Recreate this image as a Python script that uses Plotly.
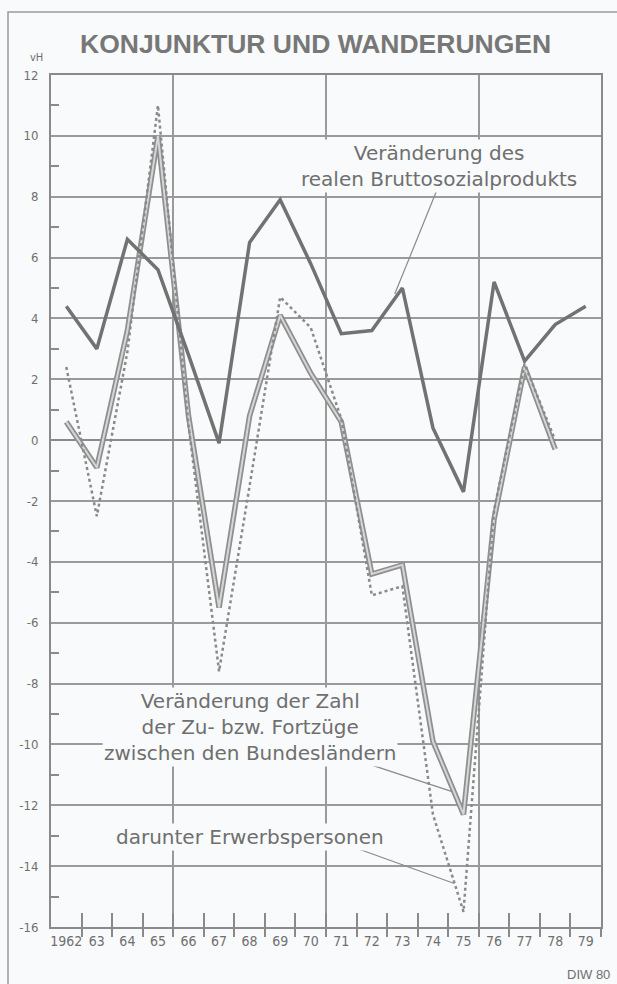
import plotly.graph_objects as go

years = list(range(1962, 1980))
year_labels = ["1962", "63", "64", "65", "66", "67", "68", "69", "70", "71",
               "72", "73", "74", "75", "76", "77", "78", "79"]

# Veränderung des realen Bruttosozialprodukts (vH)
bsp = [4.4, 3.0, 6.6, 5.6, 2.8, -0.1, 6.5, 7.9, 5.8, 3.5, 3.6, 5.0, 0.4, -1.7, 5.2, 2.6, 3.8, 4.4]

# Veränderung der Zahl der Zu- bzw. Fortzüge zwischen den Bundesländern (vH), 1962-1978
mig_years = list(range(1962, 1979))
wanderungen = [0.6, -0.9, 3.6, 10.0, 0.8, -5.5, 0.8, 4.1, 2.2, 0.6, -4.4, -4.1, -9.9, -12.3, -2.6, 2.4, -0.3]

# darunter Erwerbspersonen (vH)
erwerbspersonen = [2.4, -2.5, 2.9, 11.0, 0.5, -7.6, -1.5, 4.7, 3.7, 0.7, -5.1, -4.8, -12.3, -15.5, -2.3, 2.5, 0.0]

y_ticks = list(range(-16, 13, 2))
y_minor = list(range(-15, 12, 2))
x_bounds = [y + 0.5 for y in range(1962, 1979)]
x_grid = [1965.5, 1970.5, 1975.5]

BG = "#f8fafb"
GRID = "#9a9a9a"
AX = "#8a8a8a"
TXT = "#6f6f6f"
NARROW = "Liberation Sans Narrow, DejaVu Sans Condensed, Arial Narrow, sans-serif"
LABEL_FONT = "DejaVu Sans, Verdana, sans-serif"

fig = go.Figure()

# double (hollow) line: outer dark, inner light
fig.add_trace(go.Scatter(x=mig_years, y=wanderungen, mode="lines",
                         line=dict(color="#8f8f8f", width=5.5), hoverinfo="skip", showlegend=False))
fig.add_trace(go.Scatter(x=mig_years, y=wanderungen, mode="lines",
                         line=dict(color="#d6d6d6", width=2), showlegend=False,
                         name="Zu- bzw. Fortzüge"))
fig.add_trace(go.Scatter(x=mig_years, y=erwerbspersonen, mode="lines",
                         line=dict(color="#8a8a8a", width=2.5, dash="dot"), showlegend=False,
                         name="darunter Erwerbspersonen"))
fig.add_trace(go.Scatter(x=years, y=bsp, mode="lines",
                         line=dict(color="#727272", width=3.5), showlegend=False,
                         name="Bruttosozialprodukt"))

fig.update_layout(
    width=617, height=984,
    margin=dict(l=51, r=16, t=75, b=57),
    paper_bgcolor=BG, plot_bgcolor=BG,
    showlegend=False,
    xaxis=dict(range=[1961.5, 1979.5], tickmode="array", tickvals=years, ticktext=year_labels,
               ticks="", showgrid=False, zeroline=False, tickangle=0,
               showline=True, linecolor=AX, linewidth=2, mirror=True,
               tickfont=dict(family=NARROW, size=14, color=TXT),
               minor=dict(tickmode="array", tickvals=x_bounds, ticks="inside", ticklen=14,
                          tickcolor=AX, tickwidth=1.5, showgrid=False)),
    xaxis2=dict(range=[1961.5, 1979.5], overlaying="x", side="bottom", tickmode="array",
                tickvals=x_bounds + [1979.5], ticks="outside", ticklen=9, tickcolor=AX, tickwidth=1.5,
                showticklabels=False, showgrid=False, zeroline=False, showline=False),
    xaxis3=dict(range=[1961.5, 1979.5], overlaying="x", side="bottom", tickmode="array",
                tickvals=x_grid, ticks="", showticklabels=False, showgrid=True,
                gridcolor=GRID, gridwidth=1.5, zeroline=False, showline=False),
    yaxis=dict(range=[-16, 12], tickmode="array", tickvals=y_ticks,
               ticktext=[str(v) for v in y_ticks], ticks="", ticklabelstandoff=8,
               showgrid=True, gridcolor=GRID, gridwidth=1.5,
               zeroline=True, zerolinecolor="#8a8a8a", zerolinewidth=2.2,
               showline=True, linecolor=AX, linewidth=2, mirror=True,
               tickfont=dict(family=NARROW, size=13, color=TXT),
               minor=dict(tickmode="array", tickvals=y_minor, ticks="inside", ticklen=8,
                          tickcolor=AX, tickwidth=1.5, showgrid=False)),
)

# invisible traces to activate overlay axes
fig.add_trace(go.Scatter(x=[1961.5], y=[None], xaxis="x2", showlegend=False, hoverinfo="skip"))
fig.add_trace(go.Scatter(x=[1961.5], y=[None], xaxis="x3", showlegend=False, hoverinfo="skip"))

# outer frame
fig.add_shape(type="rect", xref="paper", yref="paper", x0=(8 - 51) / 550, x1=(640 - 51) / 550,
              y0=(927 - 1000) / 852, y1=(927 - 12) / 852, line=dict(color="#9a9a9a", width=1.5),
              layer="below")

# leader lines
leaders = [((1974.11, 8.17), (1972.75, 4.8)),
           ((1971.75, -10.6), (1974.63, -11.55)),
           ((1971.52, -13.42), (1974.7, -14.57))]
for (x0, y0), (x1, y1) in leaders:
    fig.add_shape(type="line", xref="x", yref="y", x0=x0, y0=y0, x1=x1, y1=y1,
                  line=dict(color="#8a8a8a", width=1.2))

ann_font = dict(family=LABEL_FONT, size=20, color=TXT)
fig.add_annotation(x=1974.2, y=9.0, xref="x", yref="y", showarrow=False,
                   text="Veränderung des<br>realen Bruttosozialprodukts",
                   font=ann_font, bgcolor=BG, align="center")
fig.add_annotation(x=1968.02, y=-9.42, xref="x", yref="y", showarrow=False,
                   text="Veränderung der Zahl<br>der Zu- bzw. Fortzüge<br>zwischen den Bundesländern",
                   font=ann_font, bgcolor=BG, align="center")
fig.add_annotation(x=1968.02, y=-13.03, xref="x", yref="y", showarrow=False,
                   text="darunter Erwerbspersonen",
                   font=ann_font, bgcolor=BG, align="center")

# title
fig.add_annotation(x=(315 - 51) / 550, y=(927 - 44) / 852, xref="paper", yref="paper",
                   showarrow=False, text="<b>KONJUNKTUR UND WANDERUNGEN</b>",
                   font=dict(family="Liberation Sans, Arial, sans-serif", size=26.5, color="#777777"),
                   xanchor="center", yanchor="middle")
# unit
fig.add_annotation(x=(36 - 51) / 550, y=(927 - 58) / 852, xref="paper", yref="paper",
                   showarrow=False, text="vH",
                   font=dict(family=NARROW, size=11, color=TXT), xanchor="center", yanchor="middle")
# source
fig.add_annotation(x=(612 - 51) / 550, y=(927 - 974) / 852, xref="paper", yref="paper",
                   showarrow=False, text="DIW 80",
                   font=dict(family="Liberation Sans, Arial, sans-serif", size=13, color=TXT),
                   xanchor="right", yanchor="middle")

fig.write_html("out.html", config={"displayModeBar": False},
               post_script="document.body.style.margin='0';")
